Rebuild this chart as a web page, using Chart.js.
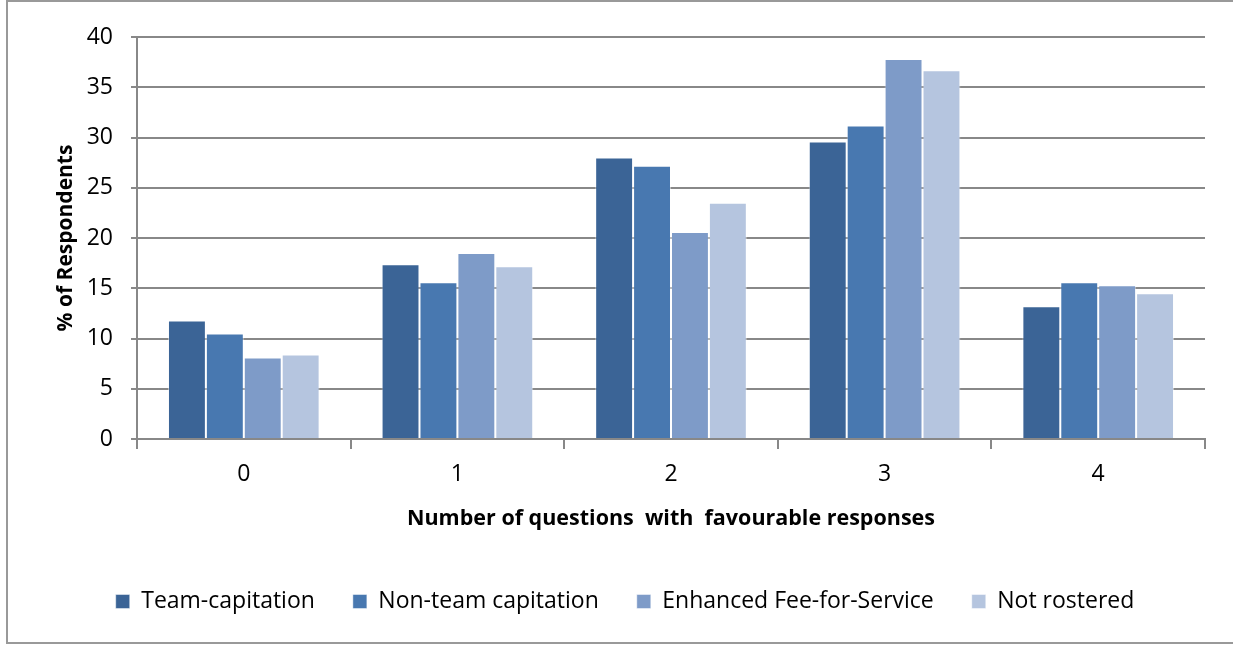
<!DOCTYPE html>
<html>
<head>
<meta charset="utf-8">
<script src="https://cdn.jsdelivr.net/npm/chart.js@4/dist/chart.umd.min.js"></script>
<style>
  html, body { margin: 0; padding: 0; background: #fff; }
  #frame {
    position: absolute; left: 6px; top: 0; width: 1240px; height: 644px;
    border: 2px solid #999; box-sizing: border-box;
  }
  #wrap { position: absolute; left: 0; top: 0; width: 1233px; height: 645px; }
</style>
</head>
<body>
<div id="frame"></div>
<div id="wrap"><canvas id="grafico" width="1233" height="645"></canvas></div>
<script>
// Categorias e séries
const categorias = ['0', '1', '2', '3', '4'];
const teamCapitation = [11.8, 17.4, 28.0, 29.6, 13.2];
const nonTeamCapitation = [10.5, 15.6, 27.2, 31.2, 15.6];
const enhancedFFS = [8.1, 18.5, 20.6, 37.8, 15.3];
const notRostered = [8.4, 17.2, 23.5, 36.7, 14.5];
const nomesSeries = ['Team-capitation', 'Non-team capitation', 'Enhanced Fee-for-Service', 'Not rostered'];
const coresSeries = ['#3b6496', '#4878b0', '#7e9bc8', '#b5c5df'];

const fonte = "'Open Sans', sans-serif";
const dadosSeries = [teamCapitation, nonTeamCapitation, enhancedFFS, notRostered];

const ctx = document.getElementById('grafico').getContext('2d');
new Chart(ctx, {
    type: 'bar',
    data: {
        labels: categorias,
        datasets: dadosSeries.map((d, i) => ({
            label: nomesSeries[i],
            data: d,
            backgroundColor: coresSeries[i],
            borderColor: 'rgba(255,255,255,0.45)',
            borderWidth: 1,
            categoryPercentage: 0.71,
            barPercentage: 1
        }))
    },
    options: {
        responsive: false,
        animation: false,
        layout: { padding: { left: 17, right: 0, top: 37, bottom: 22 } },
        plugins: {
            tooltip: { enabled: false },
            legend: {
                position: 'bottom',
                labels: {
                    boxWidth: 14, boxHeight: 14, padding: 38,
                    color: '#000',
                    font: { family: fonte, size: 23 }
                }
            }
        },
        scales: {
            x: {
                afterFit: s => { s.height = 113; },
                grid: { drawOnChartArea: false, drawTicks: true, tickLength: 10, color: '#888', lineWidth: 2 },
                border: { color: '#888', width: 2 },
                ticks: { color: '#000', font: { family: fonte, size: 23 }, padding: 12 },
                title: {
                    display: true, text: 'Number of questions  with  favourable responses',
                    color: '#000', font: { family: fonte, size: 21.5, weight: 'bold' }, padding: { top: 14, bottom: 20 }
                }
            },
            y: {
                min: 0, max: 40,
                afterFit: s => { s.width = 120; },
                grid: { color: '#888', lineWidth: 2, tickLength: 6 },
                border: { color: '#888', width: 2 },
                ticks: { stepSize: 5, color: '#000', font: { family: fonte, size: 23 }, padding: 18 },
                title: {
                    display: true, text: '% of Respondents',
                    color: '#000', font: { family: fonte, size: 21, weight: 'bold' }, padding: { top: 36, bottom: 0 }
                }
            },
            // eixo vazio à direita só para reservar a margem
            margemDireita: {
                position: 'right',
                afterFit: s => { s.width = 28; },
                grid: { display: false },
                border: { display: false },
                ticks: { display: false }
            }
        }
    }
});
</script>
</body>
</html>
